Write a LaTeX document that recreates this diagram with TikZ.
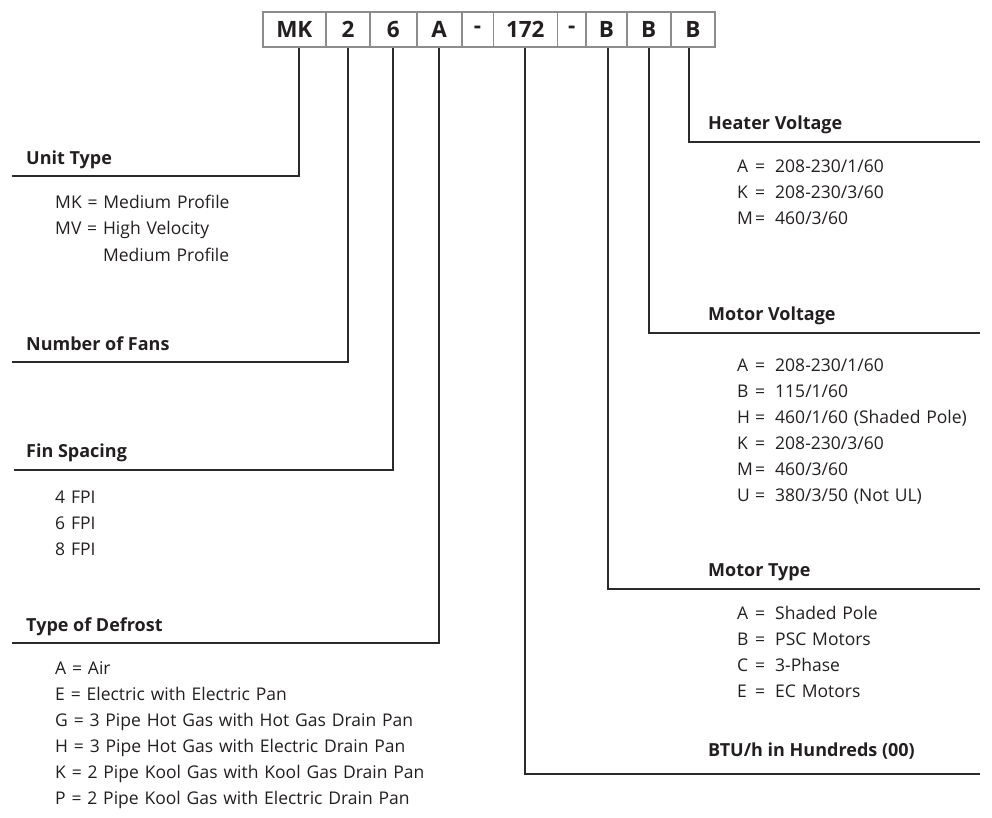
\documentclass[tikz,border=0pt]{standalone}
\usepackage{fontspec}
\setmainfont{Open Sans}
\usetikzlibrary{positioning}

\definecolor{inkdark}{HTML}{231F20}
\definecolor{cellgray}{HTML}{8C8C8C}
\definecolor{leadgray}{HTML}{2B2B2B}

\newcommand{\codeval}[2]{\makebox[18pt][l]{#1}=\hspace{10pt}#2}

\begin{document}
\begin{tikzpicture}[x=1pt,y=-1pt,
    cell/.style={draw=cellgray,line width=1.6pt,minimum height=35,inner sep=0pt,
      text=inkdark,font=\bfseries\fontsize{22.5}{22.5}\selectfont},
    lead/.style={draw=leadgray,line width=1.8pt},
    head/.style={anchor=base west,inner sep=0pt,text=inkdark,
      font=\bfseries\fontsize{18}{21}\selectfont},
    items/.style={anchor=base west,inner sep=0pt,text=inkdark,align=left,
      text width=480,font=\fontsize{17.5}{26}\selectfont}]
  \useasboundingbox (0,0) rectangle (992,818);

  % model number cells
  \node[cell,minimum width=63.3] (mk) at (294.35,29.5) {MK};
  \node[cell,minimum width=44] (fans) at (348,29.5) {2};
  \node[cell,minimum width=46.7] (fin) at (393.35,29.5) {6};
  \node[cell,minimum width=45] (defrost) at (439.2,29.5) {A};
  \node[cell,minimum width=31.6] (dasha) at (477.5,29.5) {-};
  \node[cell,minimum width=64] (btu) at (525.3,29.5) {172};
  \node[cell,minimum width=28.7] (dashb) at (571.65,29.5) {-};
  \node[cell,minimum width=40.7] (mtype) at (606.35,29.5) {B};
  \node[cell,minimum width=44] (mvolt) at (648.7,29.5) {B};
  \node[cell,minimum width=44.3] (hvolt) at (692.85,29.5) {B};

  % line ends
  \coordinate (unitend) at (12,176);
  \coordinate (fansend) at (12,362);
  \coordinate (finend) at (14,470);
  \coordinate (defrostend) at (12,643);
  \coordinate (hvoltend) at (980,142);
  \coordinate (mvoltend) at (980,333);
  \coordinate (mtypeend) at (980,589);
  \coordinate (btuend) at (980,774);

  \draw[lead] ([xshift=5]mk.south) |- (unitend);
  \draw[lead] (fans.south) |- (fansend);
  \draw[lead] (fin.south) |- (finend);
  \draw[lead] (defrost.south) |- (defrostend);
  \draw[lead] ([xshift=-4]hvolt.south) |- (hvoltend);
  \draw[lead] (mvolt.south) |- (mvoltend);
  \draw[lead] ([xshift=2]mtype.south) |- (mtypeend);
  \draw[lead] (btu.south) |- (btuend);

  % left side
  \node[head] (unithead) at (26,165) {Unit Type};
  \node[items] (unitlist) at (55,209) {MK = Medium Profile\\
    MV = High Velocity\\
    \phantom{MV = }Medium Profile};
  \node[head] (fanshead) at (26,350) {Number of Fans};
  \node[head] (finhead) at (26,457) {Fin Spacing};
  \node[items] (finlist) at (55,503) {4 FPI\\6 FPI\\8 FPI};
  \node[head] (defrosthead) at (26,631) {Type of Defrost};
  \node[items] (defrostlist) at (55,674) {A = Air\\
    E = Electric with Electric Pan\\
    G = 3 Pipe Hot Gas with Hot Gas Drain Pan\\
    H = 3 Pipe Hot Gas with Electric Drain Pan\\
    K = 2 Pipe Kool Gas with Kool Gas Drain Pan\\
    P = 2 Pipe Kool Gas with Electric Drain Pan};

  % right side
  \node[head] (hvolthead) at (708,130) {Heater Voltage};
  \node[items] (hvoltlist) at (737,173) {\codeval{A}{208-230/1/60}\\
    \codeval{K}{208-230/3/60}\\
    \codeval{M}{460/3/60}};
  \node[head] (mvolthead) at (708,320) {Motor Voltage};
  \node[items] (mvoltlist) at (737,371) {\codeval{A}{208-230/1/60}\\
    \codeval{B}{115/1/60}\\
    \codeval{H}{460/1/60 (Shaded Pole)}\\
    \codeval{K}{208-230/3/60}\\
    \codeval{M}{460/3/60}\\
    \codeval{U}{380/3/50 (Not UL)}};
  \node[head] (mtypehead) at (708,576) {Motor Type};
  \node[items] (mtypelist) at (737,619) {\codeval{A}{Shaded Pole}\\
    \codeval{B}{PSC Motors}\\
    \codeval{C}{3-Phase}\\
    \codeval{E}{EC Motors}};
  \node[head] (btuhead) at (708,756) {BTU/h in Hundreds (00)};
\end{tikzpicture}
\end{document}
